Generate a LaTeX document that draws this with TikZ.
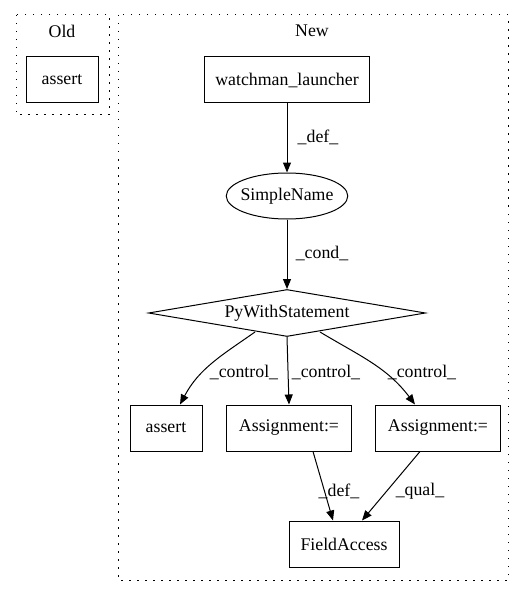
\documentclass[tikz,border=0pt]{standalone}
\usepackage{fontspec}
\setmainfont{Liberation Serif}
\usetikzlibrary{arrows.meta, positioning, shapes.geometric}
\tikzstyle{box} = [rectangle, draw=black, minimum width=72pt, minimum height=46pt, inner xsep=11pt, text centered]
\tikzstyle{oval} = [ellipse, draw=black, minimum width=120pt, minimum height=46pt, inner xsep=-3.5pt, inner ysep=0pt]
\tikzstyle{decision} = [diamond, draw=black, aspect=5.9, minimum width=277pt, minimum height=47pt, inner sep=0pt]
\tikzstyle{arrow} = [-{Triangle[length=10pt,width=8pt]}]
\tikzstyle{edgelabel} = [inner sep=0pt]
\tikzstyle{cluster} = [draw=black, dash pattern=on 1.5pt off 6.5pt]

\begin{document}
\begin{tikzpicture}[x=1pt, y=-1pt, line width=1pt, font=\fontsize{17.8}{20}\selectfont]
    \useasboundingbox (0,0) rectangle (528,596);

    % Clusters
    \draw [cluster] (16,15) rectangle (109,115);
    \node (oldTitle) at (62,31) {Old};
    \draw [cluster] (118,15) rectangle (508,580);
    \node (newTitle) at (312,31) {New};

    % Old side
    \node (oldAssert) [box] at (62,80) {assert};

    % New side
    \node (launcher) [box] at (287,80) {watchman\_launcher};
    \node (simpleName) [oval] at (287,196) {SimpleName};
    \node (withStmt) [decision] at (287,313) {PyWithStatement};
    \node (newAssert) [box] at (166,428) {assert};
    \node (assignDef) [box, minimum width=125pt] at (289,428) {Assignment:=};
    \node (assignQual) [box, minimum width=125pt] at (438,428) {Assignment:=};
    \node (fieldAccess) [box, minimum width=110pt] at (344,544) {FieldAccess};

    % Edges
    \draw [arrow] (launcher) -- (simpleName);
    \draw [arrow] (simpleName) -- (withStmt);
    \draw [arrow] (255,332) to[out=-145, in=62] (newAssert.north -| 180,0);
    \draw [arrow] (withStmt.south) -- (assignDef.north);
    \draw [arrow] (320,332) to[out=-31, in=127] (assignQual.north -| 415,0);
    \draw [arrow] ([xshift=24pt]assignDef.south) -- ([xshift=-11pt]fieldAccess.north);
    \draw [arrow] ([xshift=-18pt]assignQual.south) -- ([xshift=18pt]fieldAccess.north);

    % Edge labels
    \node (lblDef) [edgelabel] at (318,137) {\_def\_};
    \node (lblCond) [edgelabel] at (322,253) {\_cond\_};
    \node (lblCtrlA) [edgelabel] at (244,372) {\_control\_};
    \node (lblCtrlB) [edgelabel] at (326,372) {\_control\_};
    \node (lblCtrlC) [edgelabel] at (422,372) {\_control\_};
    \node (lblDefB) [edgelabel] at (339,491) {\_def\_};
    \node (lblQual) [edgelabel] at (420,491) {\_qual\_};

\end{tikzpicture}
\end{document}
